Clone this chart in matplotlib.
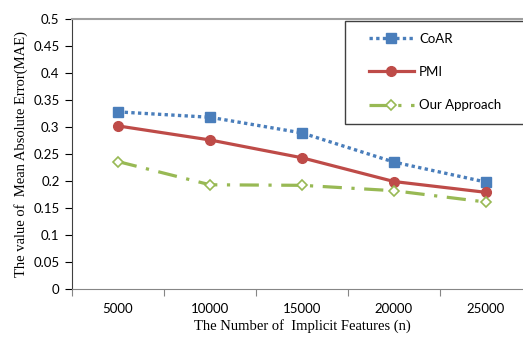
import matplotlib.pyplot as plt
from matplotlib.patches import Rectangle

# Data
categories = ["5000", "10000", "15000", "20000", "25000"]
coar = [0.328, 0.318, 0.289, 0.235, 0.198]
pmi = [0.302, 0.276, 0.243, 0.199, 0.179]
ours = [0.236, 0.193, 0.192, 0.182, 0.161]
yticks = [0, 0.05, 0.1, 0.15, 0.2, 0.25, 0.3, 0.35, 0.4, 0.45, 0.5]

W, H = 523, 338
fig = plt.figure(figsize=(W / 100, H / 100), dpi=100)
ax = fig.add_axes([72 / W, (H - 289) / H, 460 / W, 270 / H])

x = list(range(len(categories)))

ax.plot(x, coar, color="#4a7ebb", linestyle=(0, (1, 1)), linewidth=2.4,
        marker="s", markersize=6.5, markerfacecolor="#4a7ebb",
        markeredgecolor="#4a7ebb", label="CoAR")
ax.plot(x, pmi, color="#be4b48", linestyle="-", linewidth=2.3,
        marker="o", markersize=7, markerfacecolor="#be4b48",
        markeredgecolor="#be4b48", label="PMI")
ax.plot(x, ours, color="#98b954", linestyle=(0, (6, 3, 1, 3)), linewidth=2.3,
        marker="D", markersize=5, markerfacecolor="white",
        markeredgecolor="#98b954", markeredgewidth=1.2, label="Our Approach")

ax.set_xlim(-0.5, 4.5)
ax.set_ylim(0, 0.5)

tick_font = {"family": "Lato", "size": 9.5}
ax.set_yticks(yticks)
ax.set_yticklabels([f"{v:g}" for v in yticks], fontdict=tick_font)
ax.set_xticks([i - 0.5 for i in range(len(categories) + 1)])
ax.set_xticklabels([])
ax.set_xticks(x, minor=True)
ax.set_xticklabels(categories, minor=True, fontdict=tick_font)
ax.tick_params(axis="x", which="minor", length=0, pad=10)
ax.tick_params(axis="x", which="major", length=5, color="#868686", direction="out")
ax.tick_params(axis="y", length=5, direction="out", pad=4)

ax.spines["right"].set_visible(False)
ax.spines["top"].set_color("#a0a0a0")
ax.spines["top"].set_linewidth(1.5)
ax.spines["bottom"].set_color("#868686")
ax.spines["left"].set_color("#404040")

label_font = {"family": "Liberation Serif", "size": 10.5}
ax.set_ylabel("The value of  Mean Absolute Error(MAE)", fontdict=label_font, labelpad=4)
ax.set_xlabel("The Number of  Implicit Features (n)", fontdict=label_font, labelpad=3)

# legend box drawn separately, runs off the right edge as in the reference
fig.patches.append(Rectangle((345 / W, 1 - 124 / H), 200 / W, 103 / H,
                             transform=fig.transFigure, facecolor="white",
                             edgecolor="#404040", linewidth=1, zorder=3))
leg = fig.legend(loc="upper left", bbox_to_anchor=(369 / W, 1 - 33 / H),
                 prop={"family": "Lato", "size": 9.5}, frameon=False,
                 handlelength=3.4, handletextpad=0.4, labelspacing=1.6,
                 borderpad=0, borderaxespad=0)
leg.set_zorder(4)

fig.savefig("out.png", dpi=100)
